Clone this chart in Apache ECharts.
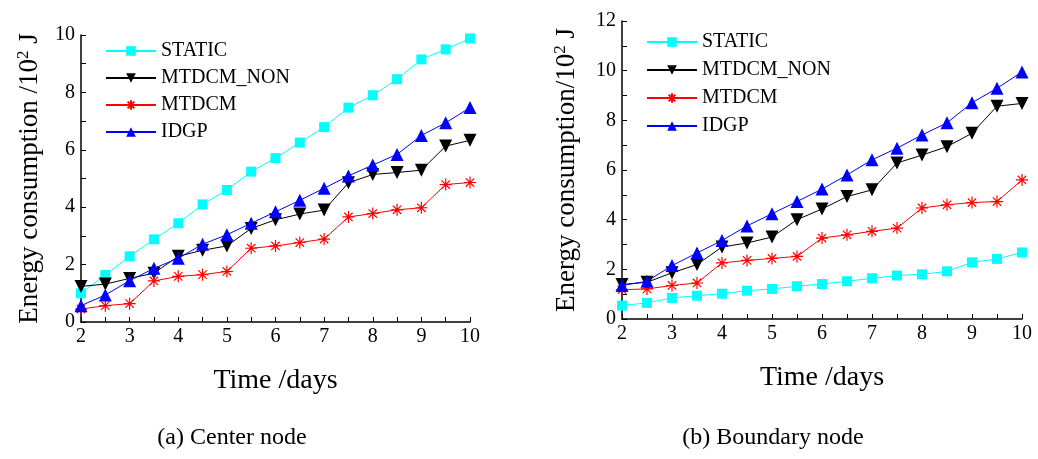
<!DOCTYPE html>
<html>
<head>
<meta charset="utf-8">
<script src="https://cdn.jsdelivr.net/npm/echarts@6/dist/echarts.min.js"></script>
<style>
  html, body { margin: 0; padding: 0; background: #fff; }
  #chart { width: 1038px; height: 459px; }
</style>
</head>
<body>
<div id="chart"></div>
<script>
// x values (days)
const days = [2, 2.5, 3, 3.5, 4, 4.5, 5, 5.5, 6, 6.5, 7, 7.5, 8, 8.5, 9, 9.5, 10];
const seriesNames = ['STATIC', 'MTDCM_NON', 'MTDCM', 'IDGP'];

// (a) center node
const centerStatic = [1.0, 1.64, 2.29, 2.88, 3.44, 4.10, 4.60, 5.24, 5.71, 6.25, 6.79, 7.47, 7.90, 8.46, 9.15, 9.50, 9.88];
const centerNon    = [1.24, 1.32, 1.52, 1.70, 2.29, 2.50, 2.65, 3.26, 3.56, 3.76, 3.90, 4.85, 5.14, 5.21, 5.29, 6.13, 6.33];
const centerMtdcm  = [0.45, 0.57, 0.64, 1.43, 1.59, 1.65, 1.76, 2.57, 2.65, 2.77, 2.89, 3.66, 3.78, 3.91, 3.98, 4.79, 4.86];
const centerIdgp   = [0.57, 0.94, 1.44, 1.87, 2.22, 2.71, 3.04, 3.44, 3.84, 4.24, 4.66, 5.09, 5.47, 5.84, 6.50, 6.94, 7.47];

// (b) boundary node
const boundStatic = [0.54, 0.65, 0.85, 0.94, 1.02, 1.14, 1.21, 1.32, 1.41, 1.52, 1.64, 1.75, 1.80, 1.92, 2.28, 2.42, 2.68];
const boundNon    = [1.39, 1.48, 1.86, 2.19, 2.90, 3.06, 3.30, 4.00, 4.43, 4.93, 5.20, 6.28, 6.60, 6.94, 7.48, 8.57, 8.68];
const boundMtdcm  = [1.18, 1.21, 1.35, 1.45, 2.26, 2.36, 2.44, 2.52, 3.26, 3.39, 3.53, 3.66, 4.47, 4.60, 4.69, 4.73, 5.60];
const boundIdgp   = [1.35, 1.52, 2.15, 2.66, 3.16, 3.75, 4.24, 4.73, 5.23, 5.80, 6.41, 6.88, 7.41, 7.90, 8.71, 9.29, 9.95];

const FONT = '"Liberation Serif", "Times New Roman", serif';
const ASTERISK = 'path://M5,0L5,10M0,5L10,5M1.5,1.5L8.5,8.5M8.5,1.5L1.5,8.5';

const styles = {
    STATIC:    { color: '#00ffff', symbol: 'rect', size: 10, rotate: 0 },
    MTDCM_NON: { color: '#000000', symbol: 'triangle', size: 13, rotate: 180 },
    MTDCM:     { color: '#ff0000', symbol: ASTERISK, size: 12, rotate: 0 },
    IDGP:      { color: '#0000ff', symbol: 'triangle', size: 13, rotate: 0 }
};

function pairs(vals) {
    return days.map((d, i) => [d, vals[i]]);
}

function makeSeries(name, vals, idx) {
    const s = styles[name];
    return {
        name: name,
        type: 'line',
        xAxisIndex: idx,
        yAxisIndex: idx,
        data: pairs(vals),
        symbol: s.symbol,
        symbolSize: s.size,
        symbolRotate: s.rotate,
        showAllSymbol: true,
        lineStyle: { color: s.color, width: 1 },
        itemStyle: {
            color: s.color,
            borderColor: s.color,
            borderWidth: name === 'MTDCM' ? 1.2 : 0
        },
        emphasis: { disabled: true },
        animation: false
    };
}

function xAxisCfg(idx) {
    return {
        type: 'value',
        gridIndex: idx,
        min: 2,
        max: 10,
        interval: 1,
        name: 'Time /days',
        nameLocation: 'middle',
        nameGap: 45,
        nameTextStyle: { fontFamily: FONT, fontSize: 28, color: '#000' },
        axisLine: { onZero: false, lineStyle: { color: '#000', width: 1.5 } },
        axisTick: { inside: true, length: 5, lineStyle: { color: '#000' } },
        minorTick: { show: true, splitNumber: 2, length: 5, lineStyle: { color: '#000' } },
        axisLabel: { fontFamily: FONT, fontSize: 20, color: '#000', margin: 5 },
        splitLine: { show: false }
    };
}

function yAxisCfg(idx, max, gap) {
    return {
        type: 'value',
        gridIndex: idx,
        min: 0,
        max: max,
        interval: 2,
        name: idx === 0 ? '{a|Energy consumption /10}{s|2}{a| J}' : '{a|Energy consumption/10}{s|2}{a| J}',
        nameLocation: 'middle',
        nameRotate: 90,
        nameGap: gap,
        nameTextStyle: {
            fontFamily: FONT, fontSize: 27, color: '#000',
            rich: {
                a: { fontFamily: FONT, fontSize: 27, color: '#000', lineHeight: 28, verticalAlign: 'bottom' },
                s: { fontFamily: FONT, fontSize: 17, color: '#000', lineHeight: 28, verticalAlign: 'top' }
            }
        },
        axisLine: { show: true, lineStyle: { color: '#000', width: 1.5 } },
        axisTick: { inside: true, length: 5, lineStyle: { color: '#000' } },
        minorTick: { show: true, splitNumber: 2, length: 5, lineStyle: { color: '#000' } },
        axisLabel: { fontFamily: FONT, fontSize: 20, color: '#000', margin: 6 },
        splitLine: { show: false }
    };
}

function legendCfg(left, top, gap) {
    return {
        orient: 'vertical',
        left: left,
        top: top,
        padding: 0,
        itemWidth: 50,
        itemHeight: 12,
        itemGap: gap,
        data: seriesNames,
        textStyle: { fontFamily: FONT, fontSize: 20, color: '#000', lineHeight: 20 },
        selectedMode: false
    };
}

const chart = echarts.init(document.getElementById('chart'));

chart.setOption({
    backgroundColor: '#fff',
    animation: false,
    grid: [
        { left: 81, top: 35, width: 389, height: 287 },
        { left: 622, top: 21, width: 400, height: 298 }
    ],
    xAxis: [xAxisCfg(0), xAxisCfg(1)],
    yAxis: [yAxisCfg(0, 10, 38), yAxisCfg(1, 12, 42)],
    legend: [legendCfg(105, 41, 7), legendCfg(646, 32, 8)],
    series: [
        makeSeries('STATIC', centerStatic, 0),
        makeSeries('MTDCM_NON', centerNon, 0),
        makeSeries('MTDCM', centerMtdcm, 0),
        makeSeries('IDGP', centerIdgp, 0),
        makeSeries('STATIC', boundStatic, 1),
        makeSeries('MTDCM_NON', boundNon, 1),
        makeSeries('MTDCM', boundMtdcm, 1),
        makeSeries('IDGP', boundIdgp, 1)
    ],
    graphic: [
        { type: 'text', x: 232, y: 438, style: { text: '(a) Center node', font: '24px ' + FONT, fill: '#000', align: 'center', verticalAlign: 'middle' } },
        { type: 'text', x: 773, y: 438, style: { text: '(b) Boundary node', font: '24px ' + FONT, fill: '#000', align: 'center', verticalAlign: 'middle' } }
    ]
});
</script>
</body>
</html>
